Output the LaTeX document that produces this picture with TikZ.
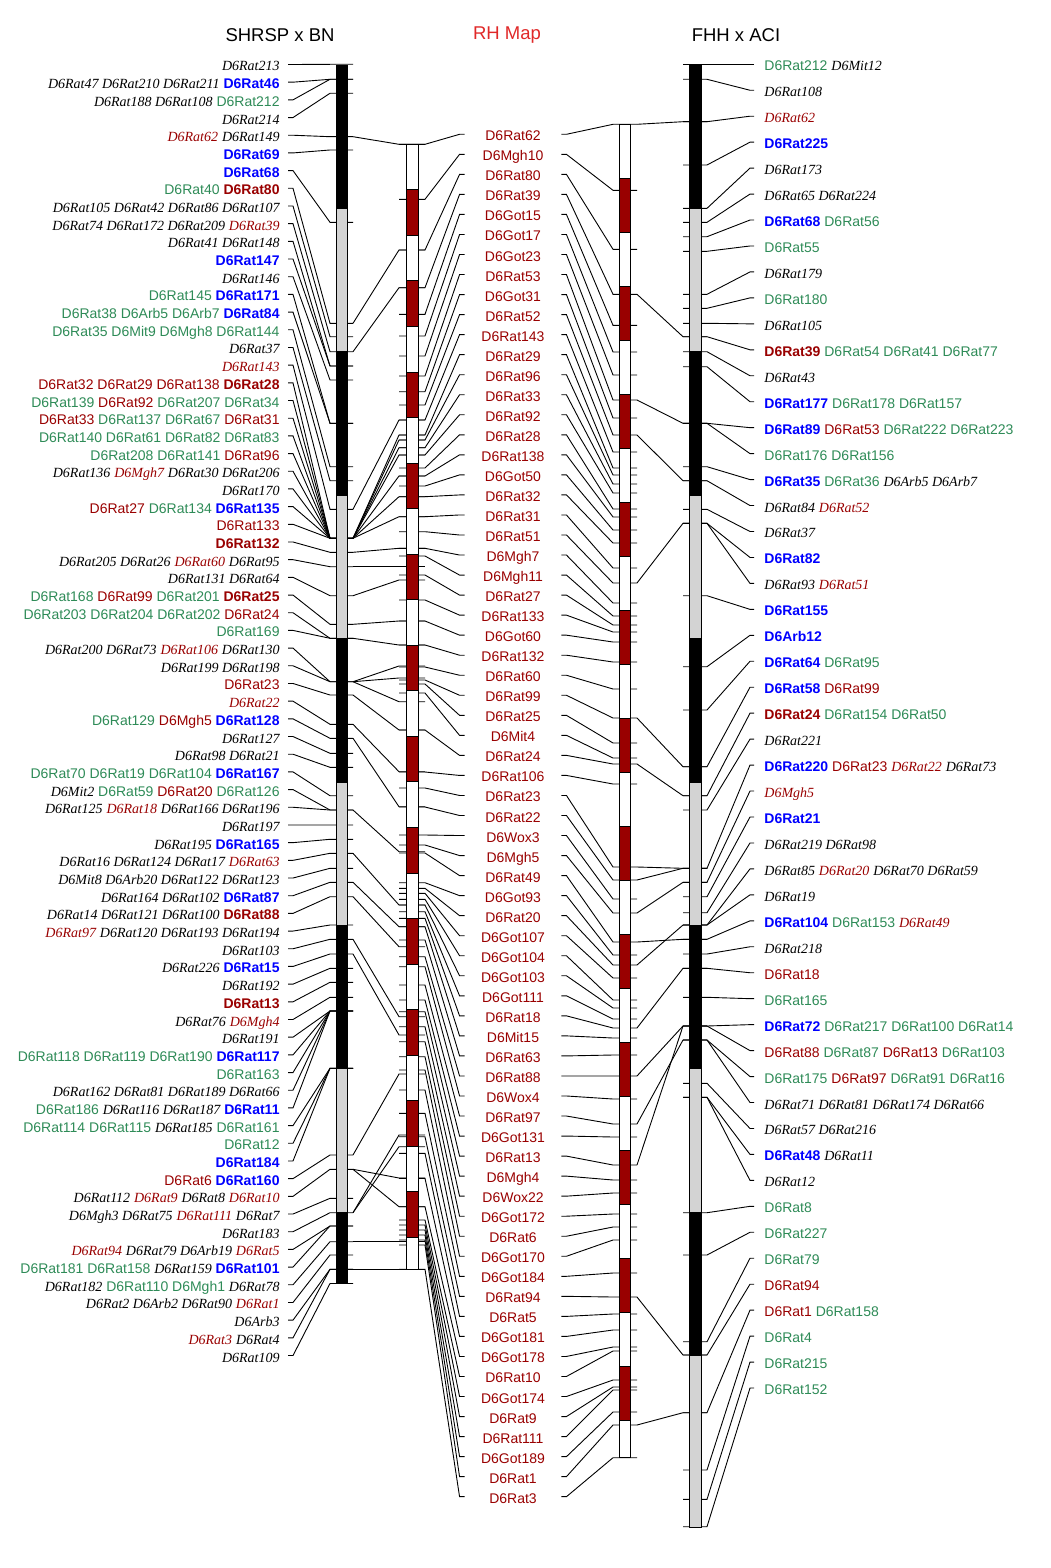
\documentclass[tikz,border=0pt]{standalone}
\usepackage{fontspec}
\setmainfont{Liberation Sans}
\newfontfamily\mkserif{Liberation Serif}
\definecolor{mkred}{RGB}{153,0,0}
\definecolor{mkgreen}{RGB}{46,139,87}
\definecolor{mkblue}{RGB}{0,0,255}
\definecolor{mkgray}{RGB}{211,211,211}
\definecolor{titlered}{RGB}{224,40,40}
% marker styles
\newcommand{\mkI}[1]{{\mkserif\itshape #1}}
\newcommand{\mkIR}[1]{{\mkserif\itshape\color{mkred}#1}}
\newcommand{\mkG}[1]{{\color{mkgreen}#1}}
\newcommand{\mkRd}[1]{{\color{mkred}#1}}
\newcommand{\mkB}[1]{{\bfseries\color{mkblue}#1}}
\newcommand{\mkBR}[1]{{\bfseries\color{mkred}#1}}
\begin{document}
\begin{tikzpicture}[x=1pt,y=-1pt,line width=0.9pt,
    lbl/.style={inner sep=0pt,text height=13pt,text depth=0pt,font=\fontsize{14}{16}\selectfont},
    ttl/.style={inner sep=0pt,font=\fontsize{18.5}{20}\selectfont}]
\useasboundingbox (0,0) rectangle (1051,1568);
% titles
\node[ttl] (SB) at (280,35) {SHRSP x BN};
\node[ttl,text=titlered] (RH) at (507,35) {RH Map};
\node[ttl] (FA) at (736,35) {FHH x ACI};
% tick columns
\coordinate (LCa) at (330,0);
\coordinate (LCb) at (353,0);
\coordinate (MBa) at (399,0);
\coordinate (MBb) at (425,0);
\coordinate (RBa) at (613,0);
\coordinate (RBb) at (637,0);
\coordinate (RCa) at (683,0);
\coordinate (RCb) at (707,0);
% left labels
\foreach \txt [count=\i] in {{\mkI{D6Rat213}},
  {\mkI{D6Rat47 D6Rat210 D6Rat211} \mkB{D6Rat46}},
  {\mkI{D6Rat188 D6Rat108} \mkG{D6Rat212}},
  {\mkI{D6Rat214}},
  {\mkIR{D6Rat62} \mkI{D6Rat149}},
  {\mkB{D6Rat69}},
  {\mkB{D6Rat68}},
  {\mkG{D6Rat40} \mkBR{D6Rat80}},
  {\mkI{D6Rat105 D6Rat42 D6Rat86 D6Rat107}},
  {\mkI{D6Rat74 D6Rat172 D6Rat209} \mkIR{D6Rat39}},
  {\mkI{D6Rat41 D6Rat148}},
  {\mkB{D6Rat147}},
  {\mkI{D6Rat146}},
  {\mkG{D6Rat145} \mkB{D6Rat171}},
  {\mkG{D6Rat38 D6Arb5 D6Arb7} \mkB{D6Rat84}},
  {\mkG{D6Rat35 D6Mit9 D6Mgh8 D6Rat144}},
  {\mkI{D6Rat37}},
  {\mkIR{D6Rat143}},
  {\mkRd{D6Rat32 D6Rat29 D6Rat138} \mkBR{D6Rat28}},
  {\mkG{D6Rat139} \mkRd{D6Rat92} \mkG{D6Rat207 D6Rat34}},
  {\mkRd{D6Rat33} \mkG{D6Rat137 D6Rat67} \mkRd{D6Rat31}},
  {\mkG{D6Rat140 D6Rat61 D6Rat82 D6Rat83}},
  {\mkG{D6Rat208 D6Rat141} \mkRd{D6Rat96}},
  {\mkI{D6Rat136} \mkIR{D6Mgh7} \mkI{D6Rat30 D6Rat206}},
  {\mkI{D6Rat170}},
  {\mkRd{D6Rat27} \mkG{D6Rat134} \mkB{D6Rat135}},
  {\mkRd{D6Rat133}},
  {\mkBR{D6Rat132}},
  {\mkI{D6Rat205 D6Rat26} \mkIR{D6Rat60} \mkI{D6Rat95}},
  {\mkI{D6Rat131 D6Rat64}},
  {\mkG{D6Rat168} \mkRd{D6Rat99} \mkG{D6Rat201} \mkBR{D6Rat25}},
  {\mkG{D6Rat203 D6Rat204 D6Rat202} \mkRd{D6Rat24}},
  {\mkG{D6Rat169}},
  {\mkI{D6Rat200 D6Rat73} \mkIR{D6Rat106} \mkI{D6Rat130}},
  {\mkI{D6Rat199 D6Rat198}},
  {\mkRd{D6Rat23}},
  {\mkIR{D6Rat22}},
  {\mkG{D6Rat129} \mkRd{D6Mgh5} \mkB{D6Rat128}},
  {\mkI{D6Rat127}},
  {\mkI{D6Rat98 D6Rat21}},
  {\mkG{D6Rat70 D6Rat19 D6Rat104} \mkB{D6Rat167}},
  {\mkI{D6Mit2} \mkG{D6Rat59} \mkRd{D6Rat20} \mkG{D6Rat126}},
  {\mkI{D6Rat125} \mkIR{D6Rat18} \mkI{D6Rat166 D6Rat196}},
  {\mkI{D6Rat197}},
  {\mkI{D6Rat195} \mkB{D6Rat165}},
  {\mkI{D6Rat16 D6Rat124 D6Rat17} \mkIR{D6Rat63}},
  {\mkI{D6Mit8 D6Arb20 D6Rat122 D6Rat123}},
  {\mkI{D6Rat164 D6Rat102} \mkB{D6Rat87}},
  {\mkI{D6Rat14 D6Rat121 D6Rat100} \mkBR{D6Rat88}},
  {\mkIR{D6Rat97} \mkI{D6Rat120 D6Rat193 D6Rat194}},
  {\mkI{D6Rat103}},
  {\mkI{D6Rat226} \mkB{D6Rat15}},
  {\mkI{D6Rat192}},
  {\mkBR{D6Rat13}},
  {\mkI{D6Rat76} \mkIR{D6Mgh4}},
  {\mkI{D6Rat191}},
  {\mkG{D6Rat118 D6Rat119 D6Rat190} \mkB{D6Rat117}},
  {\mkG{D6Rat163}},
  {\mkI{D6Rat162 D6Rat81 D6Rat189 D6Rat66}},
  {\mkG{D6Rat186} \mkI{D6Rat116 D6Rat187} \mkB{D6Rat11}},
  {\mkG{D6Rat114 D6Rat115} \mkI{D6Rat185} \mkG{D6Rat161}},
  {\mkG{D6Rat12}},
  {\mkB{D6Rat184}},
  {\mkRd{D6Rat6} \mkB{D6Rat160}},
  {\mkI{D6Rat112} \mkIR{D6Rat9} \mkI{D6Rat8} \mkIR{D6Rat10}},
  {\mkI{D6Mgh3 D6Rat75} \mkIR{D6Rat111} \mkI{D6Rat7}},
  {\mkI{D6Rat183}},
  {\mkIR{D6Rat94} \mkI{D6Rat79 D6Arb19} \mkIR{D6Rat5}},
  {\mkG{D6Rat181 D6Rat158} \mkI{D6Rat159} \mkB{D6Rat101}},
  {\mkI{D6Rat182} \mkG{D6Rat110 D6Mgh1} \mkI{D6Rat78}},
  {\mkI{D6Rat2 D6Arb2 D6Rat90} \mkIR{D6Rat1}},
  {\mkI{D6Arb3}},
  {\mkIR{D6Rat3} \mkI{D6Rat4}},
  {\mkI{D6Rat109}}}
  \node[lbl,anchor=east] (L\i) at (280,{64.5+(\i-1)*17.685}) {\txt};
% middle labels
\foreach \txt [count=\i] in {D6Rat62,D6Mgh10,D6Rat80,D6Rat39,D6Got15,D6Got17,D6Got23,
  D6Rat53,D6Got31,D6Rat52,D6Rat143,D6Rat29,D6Rat96,D6Rat33,D6Rat92,D6Rat28,D6Rat138,
  D6Got50,D6Rat32,D6Rat31,D6Rat51,D6Mgh7,D6Mgh11,D6Rat27,D6Rat133,D6Got60,D6Rat132,
  D6Rat60,D6Rat99,D6Rat25,D6Mit4,D6Rat24,D6Rat106,D6Rat23,D6Rat22,D6Wox3,D6Mgh5,
  D6Rat49,D6Got93,D6Rat20,D6Got107,D6Got104,D6Got103,D6Got111,D6Rat18,D6Mit15,
  D6Rat63,D6Rat88,D6Wox4,D6Rat97,D6Got131,D6Rat13,D6Mgh4,D6Wox22,D6Got172,D6Rat6,
  D6Got170,D6Got184,D6Rat94,D6Rat5,D6Got181,D6Got178,D6Rat10,D6Got174,D6Rat9,
  D6Rat111,D6Got189,D6Rat1,D6Rat3}
  \node[lbl,minimum width=96pt,text=mkred] (M\i) at (513,{134.3+(\i-1)*20.035}) {\txt};
% right labels
\foreach \txt [count=\i] in {{\mkG{D6Rat212} \mkI{D6Mit12}},
  {\mkI{D6Rat108}},
  {\mkIR{D6Rat62}},
  {\mkB{D6Rat225}},
  {\mkI{D6Rat173}},
  {\mkI{D6Rat65 D6Rat224}},
  {\mkB{D6Rat68} \mkG{D6Rat56}},
  {\mkG{D6Rat55}},
  {\mkI{D6Rat179}},
  {\mkG{D6Rat180}},
  {\mkI{D6Rat105}},
  {\mkBR{D6Rat39} \mkG{D6Rat54 D6Rat41 D6Rat77}},
  {\mkI{D6Rat43}},
  {\mkB{D6Rat177} \mkG{D6Rat178 D6Rat157}},
  {\mkB{D6Rat89} \mkRd{D6Rat53} \mkG{D6Rat222 D6Rat223}},
  {\mkG{D6Rat176 D6Rat156}},
  {\mkB{D6Rat35} \mkG{D6Rat36} \mkI{D6Arb5 D6Arb7}},
  {\mkI{D6Rat84} \mkIR{D6Rat52}},
  {\mkI{D6Rat37}},
  {\mkB{D6Rat82}},
  {\mkI{D6Rat93} \mkIR{D6Rat51}},
  {\mkB{D6Rat155}},
  {\mkB{D6Arb12}},
  {\mkB{D6Rat64} \mkG{D6Rat95}},
  {\mkB{D6Rat58} \mkRd{D6Rat99}},
  {\mkBR{D6Rat24} \mkG{D6Rat154 D6Rat50}},
  {\mkI{D6Rat221}},
  {\mkB{D6Rat220} \mkRd{D6Rat23} \mkIR{D6Rat22} \mkI{D6Rat73}},
  {\mkIR{D6Mgh5}},
  {\mkB{D6Rat21}},
  {\mkI{D6Rat219 D6Rat98}},
  {\mkI{D6Rat85} \mkIR{D6Rat20} \mkI{D6Rat70 D6Rat59}},
  {\mkI{D6Rat19}},
  {\mkB{D6Rat104} \mkG{D6Rat153} \mkIR{D6Rat49}},
  {\mkI{D6Rat218}},
  {\mkRd{D6Rat18}},
  {\mkG{D6Rat165}},
  {\mkB{D6Rat72} \mkG{D6Rat217 D6Rat100 D6Rat14}},
  {\mkRd{D6Rat88} \mkG{D6Rat87} \mkRd{D6Rat13} \mkG{D6Rat103}},
  {\mkG{D6Rat175} \mkRd{D6Rat97} \mkG{D6Rat91 D6Rat16}},
  {\mkI{D6Rat71 D6Rat81 D6Rat174 D6Rat66}},
  {\mkI{D6Rat57 D6Rat216}},
  {\mkB{D6Rat48} \mkI{D6Rat11}},
  {\mkI{D6Rat12}},
  {\mkG{D6Rat8}},
  {\mkG{D6Rat227}},
  {\mkG{D6Rat79}},
  {\mkRd{D6Rat94}},
  {\mkRd{D6Rat1} \mkG{D6Rat158}},
  {\mkG{D6Rat4}},
  {\mkG{D6Rat215}},
  {\mkG{D6Rat152}}}
  \node[lbl,anchor=west] (R\i) at (764,{64.3+(\i-1)*25.955}) {\txt};
% left labels to SHRSP x BN
\foreach \i/\t in {1/64.3,2/79.3,3/79.3,4/93.3,5/136.7,6/150,7/222.3,8/323.3,9/336.7,
  10/351.7,11/366,12/366,13/380,14/423.3,15/423.3,16/466.7,17/480.7,18/509.3,19/538.3,
  20/538.3,21/538.3,22/538.3,23/538.3,24/538.3,25/538.3,26/538.3,27/538.3,28/552.3,
  29/566.7,30/595.7,31/624.3,32/638.3,33/638.3,34/681.7,35/681.7,36/695,37/724.3,
  38/738.3,39/753.3,40/767.3,41/795.7,42/810,43/810,44/825,45/839.3,46/853.3,47/868.3,
  48/882.3,49/896.7,50/925,51/939.3,52/954,53/968.3,54/982.3,55/997.3,56/1011,57/1011,
  58/1011,59/1011,60/1011,61/1068.3,62/1068.3,63/1068.3,64/1155,65/1169.3,66/1198.3,
  67/1212.7,68/1226,69/1226,70/1241.7,71/1255,72/1269.3,73/1269.3,74/1283.5}
  \draw ([xshift=8pt]L\i.east) -- ++(5,0) -- (LCa |- 0,\t) -- (LCb |- 0,\t);
% SHRSP x BN to RH map
\foreach \a/\b in {136.7/144.3,323.3/250,351.7/287.7,509.3/420,538.3/435,538.3/440,
  538.3/447.7,538.3/455,538.3/476,538.3/496.7,538.3/516.7,552.3/548.3,566.7/566.7,
  595.7/580,624.3/621,638.3/645,681.7/666,681.7/678,681.7/701.7,695/730,724.3/771.7,
  738.3/806.7,810/851.7,853.3/905,882.3/926.7,896.7/946.7,939.3/1016.7,954/1035,
  1155/1074,1169.3/1178,1169.3/1206.7,1212.7/1135,1212.7/1146.7,1241.7/1241.7,
  1269.3/1269.3}
  \draw (LCb |- 0,\a) -- (MBa |- 0,\b) -- (MBb |- 0,\b);
% middle labels to RH map
\foreach \i/\t in {1/144.3,2/199.3,3/250,4/287.7,5/314.3,6/336,7/356,8/376,9/391.7,
  10/405,11/420,12/435,13/440,14/447.7,15/455,16/468,17/476,18/486,19/496.7,20/516.7,
  21/531.7,22/548.3,23/556,24/575,25/600,26/621,27/645,28/667,29/680,30/684,31/693,
  32/730,33/772,34/788,35/807,36/835,37/845,38/853,39/882.7,40/888.3,41/893.3,
  42/899.3,43/905,44/911.7,45/918.3,46/926.7,47/940,48/956.7,49/966.7,50/985,51/1000,
  52/1011.7,53/1026.7,54/1041.7,55/1056.7,56/1070,57/1090,58/1113.3,59/1136.7,
  60/1153.3,61/1178.3,62/1206.7,63/1220,64/1225,65/1230,66/1235,67/1240,68/1245,
  69/1269.3}
  \draw (M\i.west) -- ++(-5,0) -- (MBb |- 0,\t) -- (MBa |- 0,\t);
% middle labels to second RH bar
\foreach \i/\t in {1/124.3,2/190.3,3/249.3,4/294.3,5/325.3,6/352,7/375,8/400,9/418,
  10/435,11/452,12/468,13/475,14/484,15/493,16/509,17/517,18/530,19/543,20/568,
  21/583,22/603,23/616,24/625,25/632,26/642,27/662,28/689,29/718,30/743,31/758,
  32/764,33/784,34/867,35/880,36/899,37/913,38/942,39/955,40/965,41/978,42/1000,
  43/1008,44/1019,45/1028,46/1038,47/1055,48/1076,49/1099,50/1124,51/1137,52/1165,
  53/1180,54/1193,55/1214,56/1227,57/1240,58/1273,59/1297,60/1314,61/1330,62/1347,
  63/1351,64/1380,65/1387,66/1390,67/1412,68/1425,69/1457.7}
  \draw (M\i.east) -- ++(5,0) -- (RBa |- 0,\t) -- (RBb |- 0,\t);
% second RH bar to FHH x ACI
\foreach \a/\b in {124.3/121.7,294.3/336.7,400/423.3,435/480.7,583/523.3,718/766.7,
  764/795.7,867/868.3,880/868.3,913/882.3,942/939.3,965/925,1028/968.3,1076/1026,
  1124/1040,1165/1026,1297/1355,1425/1412.7}
  \draw (RBb |- 0,\a) -- (RCa |- 0,\b) -- (RCb |- 0,\b);
% FHH x ACI to right labels
\foreach \i/\t in {1/64.3,2/79.3,3/121.7,4/165,5/208.3,6/222.3,7/236.7,8/251.3,
  9/294.3,10/308.3,11/323.3,12/336.7,13/351.7,14/366.7,15/423.3,16/423.3,17/466.7,
  18/480.7,19/509.3,20/523.3,21/523.3,22/595.7,23/666.7,24/710,25/766.7,26/795.7,
  27/810,28/868.3,29/882.3,30/896.7,31/912.7,32/925,33/925,34/939.3,35/954,36/968.3,
  37/997.3,38/1026,39/1026,40/1040,41/1040,42/1083.3,43/1097.3,44/1097.3,45/1212.7,
  46/1255,47/1341.7,48/1355,49/1412.7,50/1470,51/1499.3,52/1526.7}
  \draw ([xshift=-10pt]R\i.west) -- ++(-4,0) -- (RCb |- 0,\t) -- (RCa |- 0,\t);
% SHRSP x BN bar
\draw[fill=mkgray] (336.7,65) rectangle (347.7,1283.5);
\foreach \a/\b in {65/208.4,351.8/495.2,638.6/782,925.4/1068.8,1212.2/1283.5}
  \draw[fill=black] (336.7,\a) rectangle (347.7,\b);
% RH map bar
\draw[fill=white] (406.7,144.3) rectangle (418.3,1269.3);
\foreach \k in {1,3,...,23}
  \draw[fill=mkred] (406.7,{144.3+\k*45.54}) rectangle (418.3,{144.3+(\k+1)*45.54});
% second RH bar
\draw[fill=white] (619.3,124.3) rectangle (630.5,1457.7);
\foreach \k in {1,3,...,23}
  \draw[fill=mkred] (619.3,{124.3+\k*54}) rectangle (630.5,{124.3+(\k+1)*54});
% FHH x ACI bar
\draw[fill=mkgray] (689.3,65) rectangle (701.7,1527);
\foreach \a/\b in {65/208.4,351.8/495.2,638.6/782,925.4/1068.8,1212.2/1355.6}
  \draw[fill=black] (689.3,\a) rectangle (701.7,\b);
\end{tikzpicture}
\end{document}
